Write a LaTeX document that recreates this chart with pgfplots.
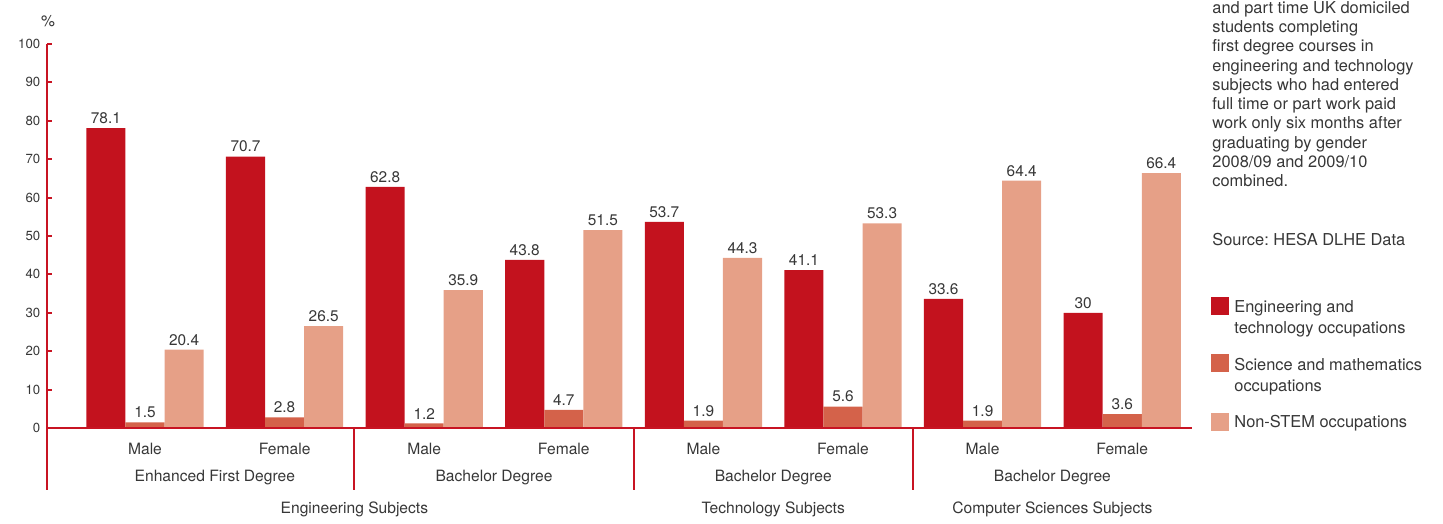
\documentclass[border=0pt]{standalone}
\usepackage{pgfplots}
\pgfplotsset{compat=1.18}
\usepackage{fontspec}
\setmainfont{TeX Gyre Heros}
\frenchspacing
\definecolor{c1}{RGB}{195,18,30}
\definecolor{c2}{RGB}{212,98,74}
\definecolor{c3}{RGB}{230,160,135}
\definecolor{txt}{RGB}{55,55,55}
\definecolor{axred}{RGB}{200,20,35}
\begin{document}
\begin{tikzpicture}
\begin{axis}[
  scale only axis, width=572.36pt, height=192pt,
  xmin=-0.7, xmax=7.5, ymin=0, ymax=100,
  axis lines=left, axis line style={-, draw=axred, line width=1pt},
  axis on top,
  ytick={0,10,...,100}, xtick=\empty,
  major tick length=2.5pt, tick style={draw=axred, line width=1pt},
  tick align=inside,
  yticklabel style={font=\fontsize{6.6}{7}\selectfont, text=txt},
  /pgf/number format/assume math mode=true,
  ybar, bar width=0.28,
  nodes near coords,
  every node near coord/.append style={font=\fontsize{7.7}{9}\selectfont, text=txt, inner sep=2pt},
  clip=false,
]
\addplot[fill=c1, draw=none, bar shift=-0.28] coordinates {(0,78.1)(1,70.7)(2,62.8)(3,43.8)(4,53.7)(5,41.1)(6,33.6)(7,30)};
\addplot[fill=c2, draw=none, bar shift=0] coordinates {(0,1.5)(1,2.8)(2,1.2)(3,4.7)(4,1.9)(5,5.6)(6,1.9)(7,3.6)};
\addplot[fill=c3, draw=none, bar shift=0.28] coordinates {(0,20.4)(1,26.5)(2,35.9)(3,51.5)(4,44.3)(5,53.3)(6,64.4)(7,66.4)};
\coordinate (O) at (axis cs:-1.03868,111.4583);
\end{axis}
\begin{scope}[shift={(O)}, x=0.5pt, y=-0.5pt, every node/.style={font=\fontsize{7.8}{9}\selectfont, text=txt}]
\path (0,0) rectangle (1443,518);
\draw[axred, line width=1pt] (47.28,427) -- (47.28,490);
\foreach \xx in {354.4,633.6,912.8} \draw[axred, line width=1pt] (\xx,427) -- (\xx,490);
\foreach \i/\lab in {0/Male,1/Female,2/Male,3/Female,4/Male,5/Female,6/Male,7/Female}
  \node[anchor=base] at ({145+139.6*\i},454) {\lab};
\node[anchor=base] at (214.8,481) {Enhanced First Degree};
\node[anchor=base] at (494,481) {Bachelor Degree};
\node[anchor=base] at (773.2,481) {Bachelor Degree};
\node[anchor=base] at (1052.4,481) {Bachelor Degree};
\node[anchor=base] at (354.4,513.5) {Engineering Subjects};
\node[anchor=base] at (773.2,513.5) {Technology Subjects};
\node[anchor=base] at (1052.4,513.5) {Computer Sciences Subjects};
\node[anchor=base] at (48,26.7) {\%};
\begin{scope}[every node/.style={font=\fontsize{8.2}{9}\selectfont, text=txt, anchor=base west, inner sep=0pt}]
\foreach \t [count=\i from 0] in {and part time UK domiciled,students completing,first degree courses in,engineering and technology,subjects who had entered,full time or part work paid,work only six months after,graduating by gender,2008/09 and 2009/10,combined.}
  \node at (1212,{13.3+19.27*\i}) {\t};
\node at (1212,245) {Source: HESA DLHE Data};
\node at (1234,312) {Engineering and};
\node at (1234,333) {technology occupations};
\node at (1234,370) {Science and mathematics};
\node at (1234,391) {occupations};
\node at (1234,427) {Non-STEM occupations};
\end{scope}
\fill[c1] (1211,297) rectangle (1229,315);
\fill[c2] (1211,354) rectangle (1229,372);
\fill[c3] (1211,413) rectangle (1229,431);
\end{scope}
\end{tikzpicture}
\end{document}
